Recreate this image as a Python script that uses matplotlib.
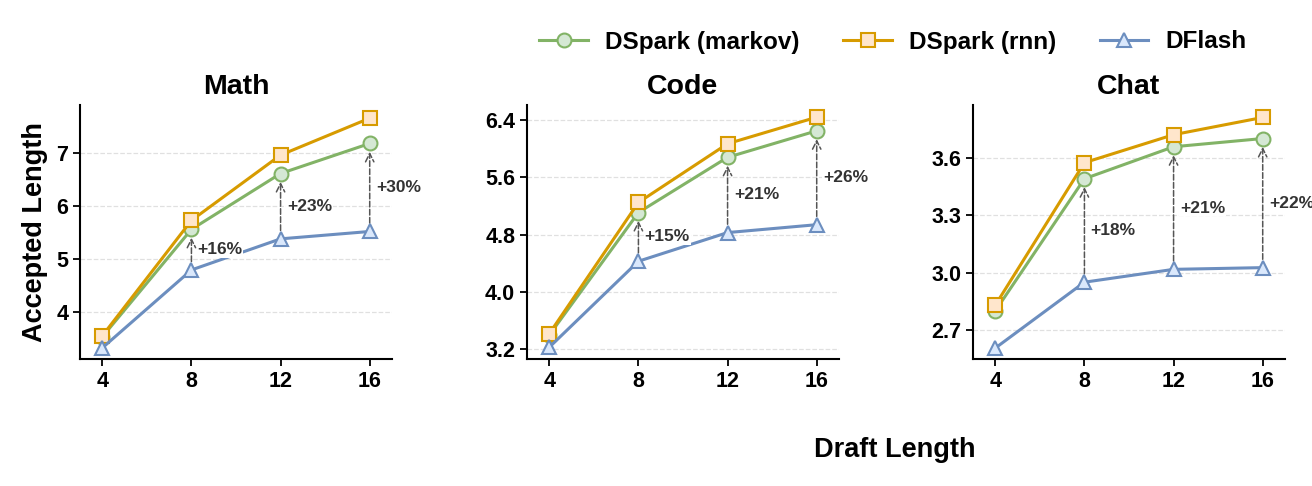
import numpy as np
import matplotlib
matplotlib.use("Agg")
import matplotlib.pyplot as plt

plt.rcParams['font.family'] = ['Liberation Sans', 'DejaVu Sans']
plt.rcParams['font.weight'] = 'bold'

draft = [4, 8, 12, 16]
tasks = ["Math", "Code", "Chat"]

# accepted length per task
markov = {
    "Math": [3.52, 5.56, 6.62, 7.19],
    "Code": [3.40, 5.11, 5.88, 6.25],
    "Chat": [2.80, 3.49, 3.657, 3.70],
}
rnn = {
    "Math": [3.54, 5.73, 6.97, 7.67],
    "Code": [3.42, 5.25, 6.07, 6.44],
    "Chat": [2.83, 3.574, 3.72, 3.81],
}
dflash = {
    "Math": [3.31, 4.79, 5.38, 5.52],
    "Code": [3.23, 4.43, 4.83, 4.94],
    "Chat": [2.606, 2.95, 3.017, 3.026],
}
gains = {
    "Math": ["+16%", "+23%", "+30%"],
    "Code": ["+15%", "+21%", "+26%"],
    "Chat": ["+18%", "+21%", "+22%"],
}
yticks = {
    "Math": [4, 5, 6, 7],
    "Code": [3.2, 4.0, 4.8, 5.6, 6.4],
    "Chat": [2.7, 3.0, 3.3, 3.6],
}
ylims = {
    "Math": (3.10, 7.92),
    "Code": (3.066, 6.61),
    "Chat": (2.549, 3.875),
}
ytickfmt = {"Math": "%d", "Code": "%.1f", "Chat": "%.1f"}

fig = plt.figure(figsize=(13.12, 4.86), dpi=100)
lefts = [80, 527, 973]
W, H = 1312, 486
axes = []
for i, t in enumerate(tasks):
    ax = fig.add_axes([lefts[i] / W, (H - 359) / H, 312 / W, (359 - 105) / H])
    axes.append(ax)
    ax.plot(draft, markov[t], color='#82b366', lw=2.2, marker='o', ms=10,
            mfc='#d5e8d4', mec='#82b366', mew=1.5, label='DSpark (markov)', zorder=3)
    ax.plot(draft, rnn[t], color='#d79b00', lw=2.2, marker='s', ms=10,
            mfc='#ffe6cc', mec='#d79b00', mew=1.5, label='DSpark (rnn)', zorder=3)
    ax.plot(draft, dflash[t], color='#6c8ebf', lw=2.2, marker='^', ms=10,
            mfc='#dae8fc', mec='#6c8ebf', mew=1.5, label='DFlash', zorder=3)
    for j in range(1, 4):
        x = draft[j]
        y0 = dflash[t][j]
        y1 = markov[t][j]
        ax.annotate('', xy=(x, y1), xytext=(x, y0),
                    arrowprops=dict(arrowstyle='->,head_length=0.6,head_width=0.3',
                                    color='#555555', lw=1.1,
                                    linestyle='--', shrinkA=6, shrinkB=6), zorder=2)
        ax.text(x + 0.28, (y0 + y1) / 2, gains[t][j - 1], ha='left', va='center',
                fontsize=12.5, fontweight='bold', color='#333333', zorder=4,
                bbox=dict(facecolor='white', edgecolor='none', pad=0.5))
    ax.set_xlim(3, 17)
    ax.set_ylim(*ylims[t])
    ax.set_xticks(draft)
    ax.set_yticks(yticks[t])
    ax.yaxis.set_major_formatter(matplotlib.ticker.FormatStrFormatter(ytickfmt[t]))
    ax.tick_params(labelsize=15.5, width=1.3, length=5)
    for lab in ax.get_xticklabels() + ax.get_yticklabels():
        lab.set_fontweight('bold')
    ax.grid(axis='y', linestyle='--', color='#e0e0e0', lw=0.9, zorder=0)
    ax.spines['top'].set_visible(False)
    ax.spines['right'].set_visible(False)
    ax.spines['left'].set_linewidth(1.5)
    ax.spines['bottom'].set_linewidth(1.5)
    ax.set_title(t, fontsize=20.5, fontweight='bold', pad=8)

axes[0].set_ylabel('Accepted Length', fontsize=19.5, fontweight='bold', labelpad=6)
fig.text(895 / W, 1 - 450 / H, 'Draft Length', ha='center', va='center',
         fontsize=19.5, fontweight='bold')

handles, labels = axes[0].get_legend_handles_labels()
fig.legend(handles, labels, loc='center', bbox_to_anchor=(893 / W, 1 - 42 / H),
           ncol=3, frameon=False, prop={'size': 17.5, 'weight': 'bold'},
           handlelength=2.0, handletextpad=0.7, columnspacing=1.8)

plt.savefig('out.png', dpi=100)
